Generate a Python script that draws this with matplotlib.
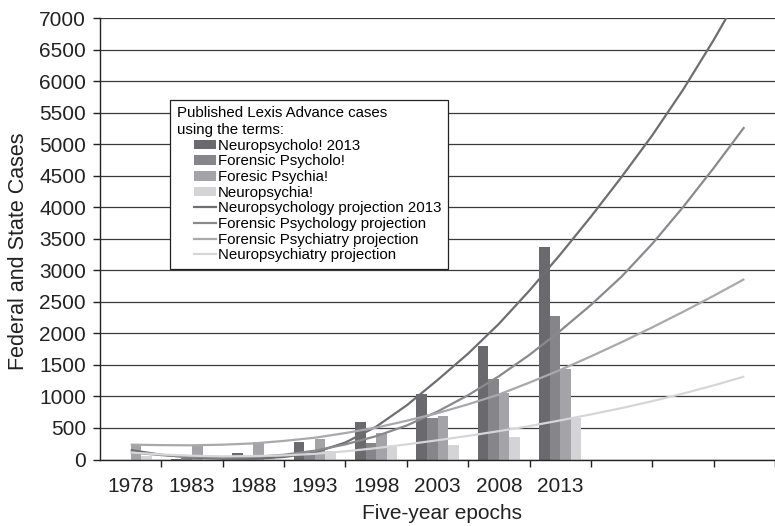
import numpy as np
import matplotlib
matplotlib.use("Agg")
import matplotlib.pyplot as plt
from matplotlib.patches import Patch
from matplotlib.lines import Line2D
from matplotlib.legend_handler import HandlerPatch, HandlerLine2D

plt.rcParams['font.family'] = ['Liberation Sans', 'DejaVu Sans']

# Five-year epochs (bars) and the projection horizon
epochs = ['1978', '1983', '1988', '1993', '1998', '2003', '2008', '2013']
extra_epochs = ['', '', '']

# Published Lexis Advance cases per epoch
neuropsycholo = [0, 15, 100, 282, 593, 1041, 1796, 3367]
forensic_psycholo = [0, 20, 40, 90, 266, 662, 1274, 2270]
foresic_psychia = [240, 235, 280, 320, 424, 693, 1057, 1427]
neuropsychia = [60, 50, 70, 130, 193, 229, 361, 652]

# Projections sampled every half epoch, 1978 through 2028
proj_pos = [0, 0.5, 1, 1.5, 2, 2.5, 3, 3.5, 4, 4.5, 5, 5.5, 6, 6.5, 7, 7.5, 8, 8.5, 9, 9.5, 10]
neuro_proj = [150, 75, 30, 10, 10, 40, 110, 270, 520, 860, 1260, 1680, 2150, 2680,
              3250, 3850, 4480, 5140, 5860, 6650, 7500]
forpsychol_proj = [110, 70, 40, 30, 40, 75, 140, 240, 370, 540, 760, 1020, 1320, 1660,
                   2040, 2450, 2900, 3420, 4000, 4620, 5270]
forpsychia_proj = [235, 228, 225, 235, 255, 295, 345, 420, 505, 615, 735, 875, 1030, 1220,
                   1420, 1635, 1860, 2095, 2340, 2595, 2860]
neuropsychia_proj = [110, 80, 60, 50, 55, 65, 90, 130, 180, 240, 305, 375, 450, 530,
                     620, 715, 815, 925, 1045, 1175, 1315]

bar_series = [
    ('Neuropsycholo! 2013', neuropsycholo, '#6a6a6e'),
    ('Forensic Psycholo!', forensic_psycholo, '#85858a'),
    ('Foresic Psychia!', foresic_psychia, '#a4a4a8'),
    ('Neuropsychia!', neuropsychia, '#d4d4d6'),
]
line_series = [
    ('Neuropsychology projection 2013', neuro_proj, '#6e6e72'),
    ('Forensic Psychology projection', forpsychol_proj, '#8a8a8e'),
    ('Forensic Psychiatry projection', forpsychia_proj, '#a9a9ac'),
    ('Neuropsychiatry projection', neuropsychia_proj, '#d6d6d8'),
]

fig = plt.figure(figsize=(7.75, 5.26), dpi=100)
ax = fig.add_axes([100 / 775, 66.5 / 526, 675 / 775, 441.5 / 526])

x = np.arange(len(epochs))
w = 0.172
handles = []
for k, (name, vals, col) in enumerate(bar_series):
    ax.bar(x + (k - 1.5) * w, vals, width=w, color=col, zorder=2)
    handles.append(Patch(facecolor=col, label=name))
for name, vals, col in line_series:
    ax.plot(proj_pos, vals, color=col, lw=1.6, zorder=3, solid_capstyle='butt')
    handles.append(Line2D([], [], color=col, lw=1.6, label=name))

ax.set_ylim(0, 7000)
ax.set_xlim(-0.5, 10.35)
ax.set_yticks(np.arange(0, 7001, 500))
ax.yaxis.grid(True, color='#3a3a3a', lw=0.9, zorder=0)
ax.set_axisbelow(True)

all_labels = epochs + extra_epochs
ax.set_xticks(np.arange(len(all_labels)))
ax.set_xticklabels(all_labels)
ax.set_xticks(np.arange(len(all_labels)) + 0.5, minor=True)
ax.tick_params(axis='x', which='major', length=0, pad=12.6, labelsize=15, colors='#222222')
ax.tick_params(axis='x', which='minor', length=5, width=1, color='#222222')
ax.tick_params(axis='y', length=5, width=1, pad=5, labelsize=15, color='#222222',
               labelcolor='#222222')

for s in ['top', 'right']:
    ax.spines[s].set_visible(False)
for s in ['left', 'bottom']:
    ax.spines[s].set_color('#222222')
    ax.spines[s].set_linewidth(1.0)

ax.set_ylabel('Federal and State Cases', fontsize=15.5, color='#222222')
ax.yaxis.set_label_coords(-0.105, 0.472)
ax.set_xlabel('Five-year epochs', fontsize=15, color='#222222')
ax.xaxis.set_label_coords(0.507, -0.100)

# indent the legend keys under the two-line title
pad = 1.13
hmap = {Patch: HandlerPatch(xpad=pad), Line2D: HandlerLine2D(xpad=pad)}
leg = ax.legend(handles=handles, handler_map=hmap,
                title='Published Lexis Advance cases\nusing the terms:',
                title_fontsize=10.8, fontsize=10.8, alignment='left',
                loc='upper left', bbox_to_anchor=(0.104, 0.815), borderaxespad=0,
                handlelength=2.6, handleheight=0.6, handletextpad=0.12,
                labelspacing=0.11, borderpad=0.45, fancybox=False, framealpha=1,
                edgecolor='#222222')
leg.get_frame().set_linewidth(0.9)
leg.get_title().set_linespacing(1.25)
leg.set_zorder(5)

fig.savefig('out.png', dpi=100)
